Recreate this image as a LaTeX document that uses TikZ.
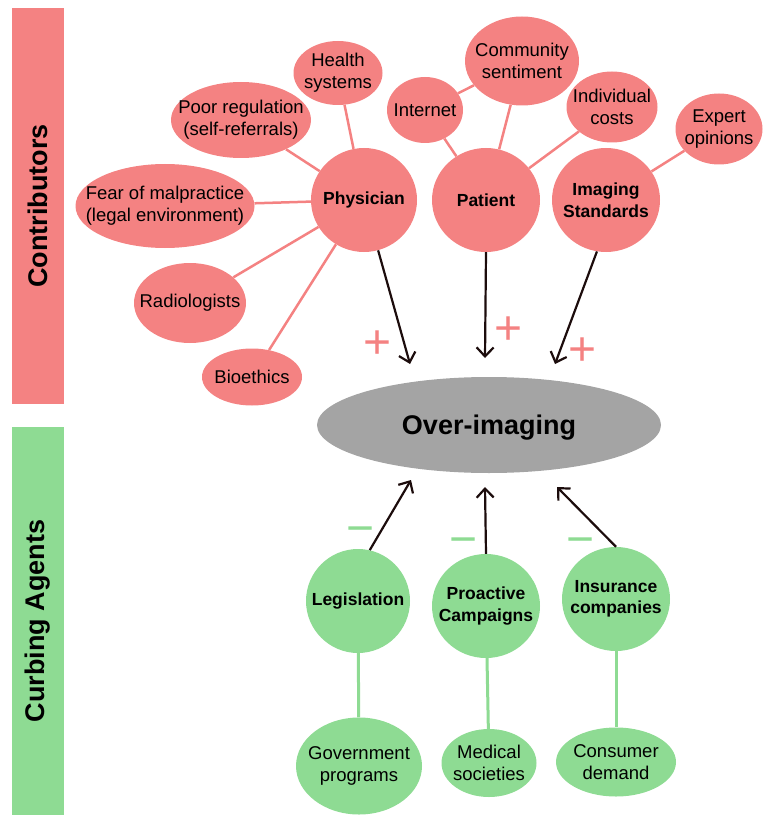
\documentclass[tikz,border=0pt]{standalone}
\usepackage{fontspec}
\setmainfont{Liberation Sans}
\usetikzlibrary{shapes.geometric,arrows.meta}
\definecolor{pinkc}{HTML}{F48282}
\definecolor{greenc}{HTML}{8EDB93}
\definecolor{grayc}{HTML}{A4A4A4}
\definecolor{arrc}{HTML}{1C0C0C}
\newcommand\fsreg{\fontsize{18.5}{22}\selectfont}
\newcommand\fsbold{\fontsize{17.5}{21.5}\selectfont\bfseries}
\begin{document}
\begin{tikzpicture}[x=1pt,y=-1pt,
  blob/.style={ellipse, inner sep=0pt},
  pk/.style={blob, fill=pinkc},
  gr/.style={blob, fill=greenc},
  sz/.style 2 args={minimum width=#1pt, minimum height=#2pt},
  txt/.style={label={[inner sep=0pt, align=center, text=black, font=\fsreg]center:{#1}}},
  txtb/.style={label={[inner sep=0pt, align=center, text=black, font=\fsbold]center:{#1}}},
  pline/.style={draw=pinkc, line width=2.5pt},
  gline/.style={draw=greenc, line width=3pt},
  arr/.style={draw=arrc, line width=2.2pt, -{Straight Barb[length=9pt,width=17pt]}},
  sign/.style={inner sep=0pt, font=\fontsize{48}{48}\selectfont},
  bar/.style={rotate=90, inner sep=0pt, font=\fontsize{27}{30}\selectfont\bfseries, text=black}
]
\useasboundingbox (0,0) rectangle (764,818);

% side bars
\node[bar, fill=pinkc, minimum width=396pt, minimum height=52pt] (contrib) at (38,206) {Contributors};
\node[bar, fill=greenc, minimum width=388pt, minimum height=52pt] (curb) at (38,621) {Curbing Agents};

% pink nodes
\node[pk, sz={89}{64}, txt={Health\\systems}] (health) at (338,73) {};
\node[pk, sz={140}{76}, txt={Poor regulation\\(self-referrals)}] (poor) at (241,120) {};
\node[pk, sz={179}{84}, txt={Fear of malpractice\\(legal environment)}] (fear) at (165,206) {};
\node[pk, sz={112}{80}, txt={Radiologists}] (radio) at (190,303) {};
\node[pk, sz={100}{57}, txt={Bioethics}] (bio) at (252,377) {};
\node[pk, sz={114}{89}, txt={Community\\sentiment}] (comm) at (522,61) {};
\node[pk, sz={76}{66}, txt={Internet}] (inet) at (425,110) {};
\node[pk, sz={91}{71}, txt={Individual\\costs}] (indiv) at (612,107) {};
\node[pk, sz={87}{71}, txt={Expert\\opinions}] (expert) at (719,129) {};
\node[pk, sz={106}{104}, txtb={Physician}] (phys) at (364,200) {};
\node[pk, sz={108}{104}, txtb={Patient}] (pat) at (486,200) {};
\node[pk, sz={108}{104}, txtb={Imaging\\Standards}] (imgstd) at (606,200) {};

% central node
\node[blob, fill=grayc, sz={344}{96}, label={[inner sep=0pt, yshift=-3pt, text=black, font=\fontsize{27}{30}\selectfont\bfseries]center:Over-imaging}] (over) at (489,425) {};

% green nodes
\node[gr, sz={104}{104}, txtb={Legislation}] (leg) at (358,601) {};
\node[gr, sz={108}{104}, txtb={Proactive\\Campaigns}] (pro) at (486,606) {};
\node[gr, sz={108}{104}, txtb={Insurance\\companies}] (ins) at (616,599) {};
\node[gr, sz={126}{97}, txt={Government\\programs}] (gov) at (359,766) {};
\node[gr, sz={95}{68}, txt={Medical\\societies}] (med) at (489,763) {};
\node[gr, sz={120}{69}, txt={Consumer\\demand}] (cons) at (616,762) {};

% pink connectors
\draw[pline] (health) -- (phys);
\draw[pline] (poor) -- (phys);
\draw[pline] (fear) -- (phys);
\draw[pline] (radio) -- (phys);
\draw[pline] (bio) -- (phys);
\draw[pline] (inet) -- (comm);
\draw[pline] (inet) -- (pat);
\draw[pline] (comm) -- (pat);
\draw[pline] (indiv) -- (pat);
\draw[pline] (expert) -- (imgstd);

% green connectors
\draw[gline] (leg) -- (gov);
\draw[gline] (pro) -- (med);
\draw[gline] (ins) -- (cons);

% arrow ends
\coordinate (p1) at (410,364);
\coordinate (p2) at (485,358);
\coordinate (p3) at (555,364);
\coordinate (m1) at (411,480);
\coordinate (m2) at (485,487);
\coordinate (m3) at (557,487);

\draw[arr] (phys) -- (p1);
\draw[arr] (pat.-90) -- (p2);
\draw[arr] (imgstd.-100) -- (p3);
\draw[arr] (leg.77) -- (m1);
\draw[arr] (pro.90) -- (m2);
\draw[arr] (ins.90) -- (m3);

% signs
\node[sign, text=pinkc] (plus1) at (378,345) {+};
\node[sign, text=pinkc] (plus2) at (509,331) {+};
\node[sign, text=pinkc] (plus3) at (583,352) {+};
\node[sign, text=greenc] (minus1) at (361,536) {−};
\node[sign, text=greenc] (minus2) at (464,547) {−};
\node[sign, text=greenc] (minus3) at (581,547) {−};
\end{tikzpicture}
\end{document}
